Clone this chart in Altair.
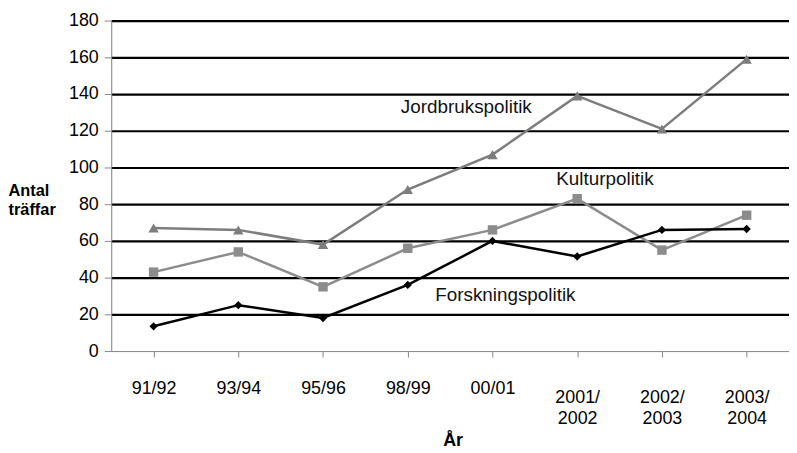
import altair as alt
import pandas as pd

years = ["91/92", "93/94", "95/96", "98/99", "00/01", "2001/2002", "2002/2003", "2003/2004"]
jordbruk = [67, 66, 58, 88, 107, 139, 121, 159]
kultur = [43, 54, 35, 56, 66, 83, 55, 74]
forskning = [13.5, 25, 18, 36, 60, 51.5, 66, 66.5]

series_names = ["Jordbrukspolitik", "Kulturpolitik", "Forskningspolitik"]
series_colors = ["#7d7d7d", "#8c8c8c", "#000000"]
series_shapes = ["triangle-up", "square", "diamond"]
series_sizes = [110, 70, 80]

y_ticks = [0, 20, 40, 60, 80, 100, 120, 140, 160, 180]

rows = []
for name, vals in zip(series_names, [jordbruk, kultur, forskning]):
    for yr, v in zip(years, vals):
        rows.append({"year": yr, "value": v, "series": name})
df = pd.DataFrame(rows)

# annotation labels
ann_text = ["Jordbrukspolitik", "Kulturpolitik", "Forskningspolitik"]
ann_year = ["98/99", "2001/2002", "00/01"]
ann_value = [133, 93.5, 30.3]
ann_dx = [59, 28, 13]
ann = pd.DataFrame({"label": ann_text, "year": ann_year, "value": ann_value})

x_axis = alt.Axis(
    title="År",
    titleFontWeight="bold",
    titleFontSize=18,
    titleX=344,
    titleY=95,
    titleAlign="center",
    titleBaseline="alphabetic",
    bandPosition=0,
    labelAngle=0,
    labelBaseline="top",
    labelFontSize=18,
    labelLineHeight=21,
    labelPadding={"condition": {"test": "length(datum.value) > 5", "value": 32}, "value": 23},
    labelExpr="length(datum.label) > 5 ? [slice(datum.label, 0, 5), slice(datum.label, 5)] : datum.label",
    labelOverlap=False,
    tickSize=6,
    tickColor="#888888",
    domainColor="#888888",
    grid=False,
)

y_axis = alt.Axis(
    values=y_ticks,
    labelOverlap=False,
    title=["Antal", "träffar"],
    titleAngle=0,
    titleAlign="left",
    titleBaseline="alphabetic",
    titleX=-104,
    titleY=176,
    titleFontWeight="bold",
    titleFontSize=16.5,
    titleLineHeight=19,
    labelFontSize=18,
    labelPadding=6,
    tickSize=7,
    tickColor="#888888",
    domainColor="#888888",
    grid=True,
    gridColor={"condition": {"test": "datum.value === 0", "value": "transparent"}, "value": "#000000"},
    gridWidth=2.2,
    gridOpacity=1,
)

x_scale = alt.Scale(domain=years, paddingInner=0, paddingOuter=0)
y_scale = alt.Scale(domain=[0, 180], nice=False)


def xe():
    return alt.X("year:N", sort=years, scale=x_scale, axis=x_axis)


def ye():
    return alt.Y("value:Q", scale=y_scale, axis=y_axis)


color = alt.Color("series:N", scale=alt.Scale(domain=series_names, range=series_colors), legend=None)
shape = alt.Shape("series:N", scale=alt.Scale(domain=series_names, range=series_shapes), legend=None)
size = alt.Size("series:N", scale=alt.Scale(domain=series_names, range=series_sizes), legend=None)

base = alt.Chart(df)
lines = base.mark_line(strokeWidth=2.5).encode(x=xe(), y=ye(), color=color, detail="series:N")
points = base.mark_point(filled=True, opacity=1).encode(x=xe(), y=ye(), color=color, shape=shape, size=size)

texts = [
    alt.Chart(ann[ann["label"] == t]).mark_text(
        fontSize=19, color="#111111", align="center", baseline="middle", dx=d
    ).encode(x=xe(), y=ye(), text="label:N")
    for t, d in zip(ann_text, ann_dx)
]

chart = alt.layer(lines, points, *texts).properties(
    width=683,
    height=333,
    autosize=alt.AutoSizeParams(type="none"),
    padding={"left": 104, "top": 11, "right": 0, "bottom": 99},
).configure_view(stroke=None).configure(
    font="Liberation Sans", background="white"
).configure_axis(labelColor="#000000", titleColor="#000000", labelFont="Liberation Sans", titleFont="Liberation Sans")

chart.save("out.html", embed_options={"renderer": "svg", "actions": False})
